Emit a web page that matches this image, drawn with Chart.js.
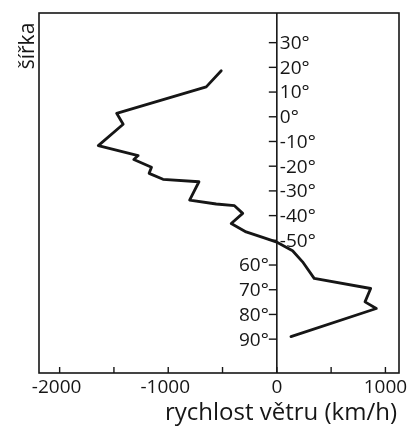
<!DOCTYPE html>
<html>
<head>
<meta charset="utf-8">
<script src="https://cdn.jsdelivr.net/npm/chart.js@4/dist/chart.umd.min.js"></script>
<style>
  html, body { margin: 0; padding: 0; background: #fff; }
  #wrap { width: 417px; height: 432px; }
</style>
</head>
<body>
<div id="wrap"><canvas id="chart" width="417" height="432"></canvas></div>
<script>
// wind profile: latitude (deg) vs wind speed (km/h)
const latitude = [18.6, 12.1, 1.4, -3.0, -11.7, -15.7, -17.3, -20.4, -22.9, -25.3, -26.3, -33.7, -35.3,
  -36.0, -39.1, -43.2, -46.6, -48.8, -50.6, -54.2, -58.7, -65.4, -69.5, -74.9, -77.6, -89.0];
const windSpeed = [-512, -650, -1475, -1415, -1644, -1277, -1317, -1154, -1176, -1048, -717, -803, -558,
  -390, -314, -420, -283, -130, -7, 145, 237, 344, 864, 812, 916, 130];

const windTicks = [-2000, -1500, -1000, -500, 0, 500, 1000];
const windLabels = ["-2000", "", "-1000", "", "0", "", "1000"];
const latTicks = [30, 20, 10, 0, -10, -20, -30, -40, -50, -60, -70, -80, -90];
const latLabels = ["30°", "20°", "10°", "0°", "-10°", "-20°", "-30°", "-40°", "-50°", "60°", "70°", "80°", "90°"];

const xTitle = "rychlost větru (km/h)";
const yTitle = "šířka";

const ink = "#161616";
const labelFont = "19px 'Open Sans'";

// frame, zero axis, ticks and all the text
const axesPlugin = {
  id: "axes",
  beforeDatasetsDraw(chart) {
    const { ctx, chartArea: a, scales } = chart;
    const x0 = scales.x.getPixelForValue(0);
    ctx.save();
    ctx.strokeStyle = ink;
    ctx.lineWidth = 1.6;
    ctx.strokeRect(a.left, a.top, a.right - a.left, a.bottom - a.top);
    ctx.beginPath();
    ctx.moveTo(x0, a.top);
    ctx.lineTo(x0, a.bottom);
    ctx.stroke();
    ctx.lineWidth = 1.4;
    windTicks.forEach(v => {
      const px = scales.x.getPixelForValue(v);
      ctx.beginPath();
      ctx.moveTo(px, a.bottom);
      ctx.lineTo(px, a.bottom - 6);
      ctx.stroke();
    });
    latTicks.forEach(v => {
      const py = scales.y.getPixelForValue(v);
      ctx.beginPath();
      ctx.moveTo(x0 - 8, py);
      ctx.lineTo(x0, py);
      ctx.stroke();
    });
    ctx.restore();
  },
  afterDraw(chart) {
    const { ctx, chartArea: a, scales } = chart;
    const x0 = scales.x.getPixelForValue(0);
    ctx.save();
    ctx.fillStyle = ink;
    ctx.font = labelFont;
    ctx.textBaseline = "middle";
    latTicks.forEach((v, i) => {
      const py = scales.y.getPixelForValue(v);
      if (v >= -50) {
        ctx.textAlign = "left";
        ctx.fillText(latLabels[i], x0 + 3, py + 1);
      } else {
        ctx.textAlign = "right";
        ctx.fillText(latLabels[i], x0 - 8, py + 1);
      }
    });
    ctx.textAlign = "center";
    ctx.textBaseline = "alphabetic";
    windTicks.forEach((v, i) => {
      if (!windLabels[i]) return;
      const px = scales.x.getPixelForValue(v);
      ctx.fillText(windLabels[i], px - (v < 0 ? 3 : 0), a.bottom + 20);
    });
    ctx.font = "24px 'Open Sans'";
    ctx.fillText(xTitle, 281, 420);
    ctx.translate(28, 46);
    ctx.rotate(-Math.PI / 2);
    ctx.textBaseline = "middle";
    ctx.font = "21px 'Open Sans'";
    ctx.fillText(yTitle, 0, 0);
    ctx.restore();
  }
};

new Chart(document.getElementById("chart"), {
  type: "scatter",
  data: {
    datasets: [{
      data: windSpeed.map((w, i) => ({ x: w, y: latitude[i] })),
      showLine: true,
      borderColor: ink,
      borderWidth: 2.8,
      pointRadius: 0,
      tension: 0,
      borderJoinStyle: "round",
      borderCapStyle: "round",
    }]
  },
  options: {
    responsive: false,
    animation: false,
    layout: { padding: { left: 39, top: 13, right: 18, bottom: 59 } },
    plugins: { legend: { display: false }, tooltip: { enabled: false } },
    scales: {
      x: { type: "linear", min: -2190, max: 1125, display: false },
      y: { type: "linear", min: -103.7, max: 42, display: false }
    }
  },
  plugins: [axesPlugin]
});
</script>
</body>
</html>
